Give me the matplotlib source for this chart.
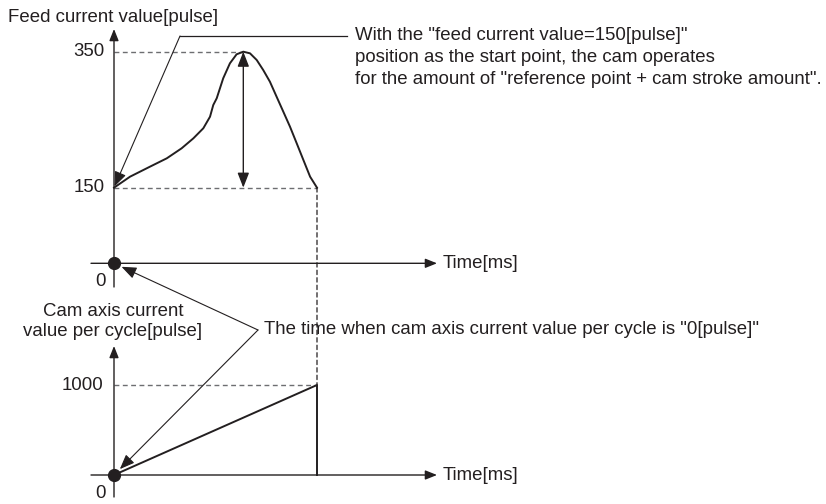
import numpy as np
import matplotlib
matplotlib.use("Agg")
import matplotlib.pyplot as plt
from matplotlib.patches import ConnectionPatch
from matplotlib.transforms import blended_transform_factory

plt.rcParams['font.family'] = ['Liberation Sans', 'DejaVu Sans']

# ---- data -------------------------------------------------------------
# feed current value over one cam cycle (time in % of cycle, value in pulse)
feed_time = [0, 7.9, 17.7, 26.0, 33.3, 39.1, 44.0, 47.3, 48.9, 50.6, 53.8, 57.1,
             60.4, 63.7, 67.0, 70.3, 73.5, 76.8, 80.1, 83.4, 86.7, 90.0, 93.3,
             96.6, 100]
feed_value = [150, 166.2, 180.9, 193.2, 207.9, 222.6, 237.4, 254.4, 271.6, 281.5,
              310.9, 332.9, 346.2, 350, 347.6, 337.8, 323.1, 305.9, 283.8, 261.8,
              239.7, 215.3, 190.7, 166.2, 150]
feed_start = 150
feed_peak = 350
peak_time = 63.7
cycle_end = 100

# cam axis current value per cycle
cam_time = [0, 100, 100]
cam_value = [0, 1000, 0]
cam_max = 1000

feed_ticks = [150, 350]
cam_ticks = [1000]

INK = '#231f20'
GUIDE = '#6d6e71'
FS = 13.4

W, H = 826, 504
fig = plt.figure(figsize=(W / 100, H / 100), dpi=100)


def P(x, y):
    """figure-fraction position from a top-left pixel position"""
    return (x / W, 1 - y / H)


# time scale shared by both charts: 0 % at x=114 px, 100 % at x=317 px
T0, TPX = 114, 2.03
xlim = (-T0 / TPX, (W - T0) / TPX)

# upper chart: broken value axis (0..150 compressed, 150..350 linear)
BASE_TOP = 263.3
LOW = 75.6          # px between 0 and 150
HIGH = 0.68         # px per pulse above 150


def fwd(v):
    v = np.asarray(v, dtype=float)
    return np.where(v < 150, v * LOW / 150, LOW + (v - 150) * HIGH)


def inv(d):
    d = np.asarray(d, dtype=float)
    return np.where(d < LOW, d * 150 / LOW, 150 + (d - LOW) / HIGH)


ax_top = fig.add_axes([0, 0, 1, 1])
ax_top.set_yscale('function', functions=(fwd, inv))
ax_top.set_xlim(*xlim)
ax_top.set_ylim(float(inv(BASE_TOP - H)), float(inv(BASE_TOP)))
ax_top.axis('off')

# lower chart: linear, 0 at y=475 px, 0.09 px per pulse
BASE_BOT, SBOT = 475.0, 0.09
ax_bot = fig.add_axes([0, 0, 1, 1])
ax_bot.set_xlim(*xlim)
ax_bot.set_ylim((BASE_BOT - H) / SBOT, BASE_BOT / SBOT)
ax_bot.axis('off')
for a in (ax_top, ax_bot):
    a.patch.set_visible(False)

arrow_kw = dict(arrowstyle='-|>,head_length=0.7,head_width=0.28',
                mutation_scale=10, lw=1.0, color=INK, shrinkA=0, shrinkB=0)


def axis_arrow(p0, p1):
    fig.add_artist(matplotlib.patches.FancyArrowPatch(
        P(*p0), P(*p1), transform=fig.transFigure, **arrow_kw))


# axes of both charts
axis_arrow((114, 287), (114, 29))
axis_arrow((91, 263.3), (437, 263.3))
axis_arrow((114, 497), (114, 346))
axis_arrow((91, 475), (437, 475))

# dashed guides
ax_top.plot([0, peak_time], [feed_peak, feed_peak], color=GUIDE, lw=1.0, ls=(0, (3.5, 2.5)))
ax_top.plot([0, cycle_end], [feed_start, feed_start], color=GUIDE, lw=1.0, ls=(0, (3.5, 2.5)))
ax_bot.plot([0, cycle_end], [cam_max, cam_max], color=GUIDE, lw=1.0, ls=(0, (3.5, 2.5)))
fig.add_artist(ConnectionPatch((cycle_end, feed_start), (cycle_end, cam_max),
                               coordsA=ax_top.transData, coordsB=ax_bot.transData,
                               color=INK, lw=0.9, ls=(0, (3.5, 2.5))))

# feed current value curve
ax_top.plot(feed_time, feed_value, color=INK, lw=1.4, solid_joinstyle='round')

# stroke amount double arrow
ax_top.annotate('', xy=(peak_time, feed_peak), xytext=(peak_time, feed_start),
                arrowprops=dict(arrowstyle='<|-|>,head_length=0.9,head_width=0.35',
                                mutation_scale=10, lw=1.0, color=INK,
                                shrinkA=0, shrinkB=0))

# cam axis current value per cycle
ax_bot.plot(cam_time, cam_value, color=INK, lw=1.4)

# zero points
ax_top.plot([0], [0], 'o', ms=8.5, color=INK, zorder=5)
ax_bot.plot([0], [0], 'o', ms=8.5, color=INK, zorder=5)

# tick labels
bt = blended_transform_factory(fig.transFigure, ax_top.transData)
bb = blended_transform_factory(fig.transFigure, ax_bot.transData)
for v in feed_ticks:
    ax_top.text(105 / W, v, str(v), transform=bt, ha='right', va='center',
                fontsize=FS, color=INK)
for v in cam_ticks:
    ax_bot.text(103 / W, v, str(v), transform=bb, ha='right', va='center',
                fontsize=FS, color=INK)
fig.text(*P(100, 282), '0', ha='center', va='center', fontsize=FS, color=INK)
fig.text(*P(100, 493), '0', ha='center', va='center', fontsize=FS, color=INK)

# axis titles
fig.text(*P(8, 17), 'Feed current value[pulse]', ha='left', va='center',
         fontsize=FS, color=INK)
fig.text(*P(443, 263.3), 'Time[ms]', ha='left', va='center', fontsize=FS, color=INK)
fig.text(*P(443, 475), 'Time[ms]', ha='left', va='center', fontsize=FS, color=INK)
fig.text(*P(113, 312), 'Cam axis current', ha='center', va='center',
         fontsize=FS, color=INK)
fig.text(*P(113, 332), 'value per cycle[pulse]', ha='center', va='center',
         fontsize=FS, color=INK)

# callout: start point of the cam operation
thin = dict(arrowstyle='-|>,head_length=1.0,head_width=0.4', mutation_scale=9,
            lw=0.8, color=INK, shrinkA=0)
fig.add_artist(matplotlib.lines.Line2D([180 / W, 347 / W], [1 - 36 / H, 1 - 36 / H],
                                       transform=fig.transFigure, lw=0.9, color=INK))
ax_top.annotate('', xy=(0, feed_start), xytext=P(180, 36), textcoords='figure fraction',
                arrowprops=dict(thin, shrinkB=1))
for i, line in enumerate(['With the "feed current value=150[pulse]"',
                          'position as the start point, the cam operates',
                          'for the amount of "reference point + cam stroke amount".']):
    fig.text(*P(355, 36 + 22 * i), line, ha='left', va='center', fontsize=FS, color=INK)

# callout: zero points of the cam axis
ax_top.annotate('', xy=(0, 0), xytext=P(258, 330), textcoords='figure fraction',
                arrowprops=dict(thin, shrinkB=6))
ax_bot.annotate('', xy=(0, 0), xytext=P(258, 330), textcoords='figure fraction',
                arrowprops=dict(thin, shrinkB=6))
fig.text(*P(264, 330), 'The time when cam axis current value per cycle is "0[pulse]"',
         ha='left', va='center', fontsize=FS, color=INK)

fig.savefig('out.png', dpi=100)
